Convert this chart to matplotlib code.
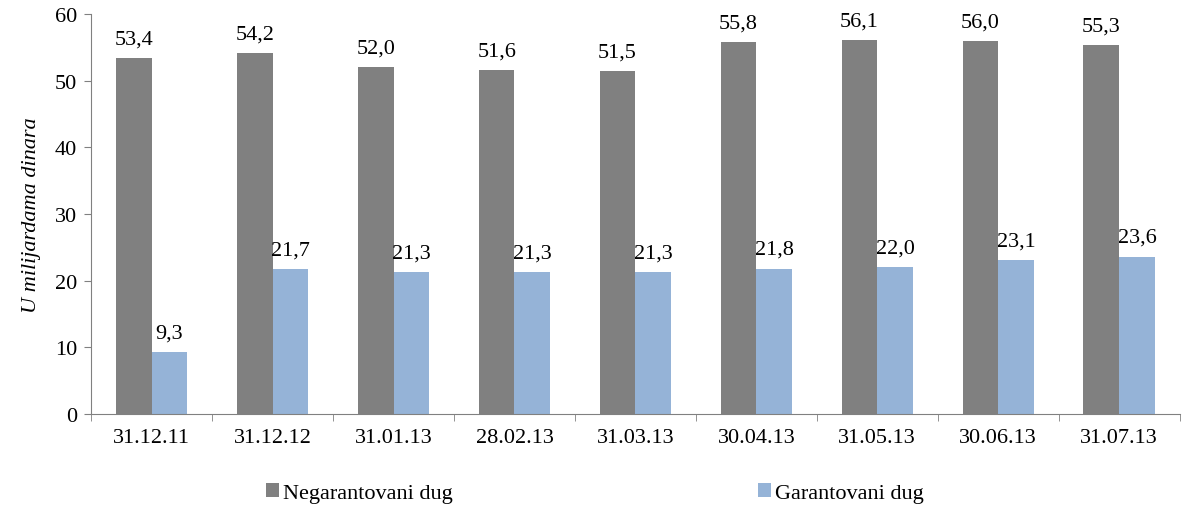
import numpy as np
import matplotlib.pyplot as plt

plt.rcParams['font.family'] = ['Liberation Serif', 'DejaVu Serif']

dates = ['31.12.11', '31.12.12', '31.01.13', '28.02.13', '31.03.13',
         '30.04.13', '31.05.13', '30.06.13', '31.07.13']
negarantovani = [53.4, 54.2, 52.0, 51.6, 51.5, 55.8, 56.1, 56.0, 55.3]
garantovani = [9.3, 21.7, 21.3, 21.3, 21.3, 21.8, 22.0, 23.1, 23.6]

fig = plt.figure(figsize=(12, 5.06), dpi=100)
ax = fig.add_axes([0.076, 0.18, 0.907, 0.79])

x = np.arange(len(dates))
w = 0.295
b1 = ax.bar(x - w/2, negarantovani, w, color='#808080', label='Negarantovani dug')
b2 = ax.bar(x + w/2, garantovani, w, color='#95b3d7', label='Garantovani dug')

for bars in (b1, b2):
    for r in bars:
        h = r.get_height()
        ax.annotate(f'{h:.1f}'.replace('.', ','), (r.get_x() + r.get_width()/2, h),
                    xytext=(0, 7), textcoords='offset points',
                    ha='center', va='bottom', fontsize=16)

ax.set_xlim(-0.5, len(dates) - 0.5)
ax.set_ylim(0, 60)
ax.set_yticks(range(0, 61, 10))
ax.set_xticks(x)
ax.set_xticklabels(dates)
ax.set_xticks(np.arange(-0.5, len(dates), 1), minor=True)
ax.tick_params(axis='x', which='major', length=0, pad=10)
ax.tick_params(axis='x', which='minor', length=5, color='#808080')
ax.tick_params(axis='y', length=5, color='#808080', pad=5)
ax.tick_params(labelsize=16)
ax.set_ylabel('U milijardama dinara', fontsize=16, style='italic', labelpad=10)

for s in ['top', 'right']:
    ax.spines[s].set_visible(False)
for s in ['left', 'bottom']:
    ax.spines[s].set_color('#808080')

fig.legend(loc='lower left', bbox_to_anchor=(0.205, -0.036), ncol=2, frameon=False,
           fontsize=16, handlelength=0.6, handleheight=0.6, handletextpad=0.15,
           columnspacing=13.75)

plt.savefig('out.png', dpi=100)
